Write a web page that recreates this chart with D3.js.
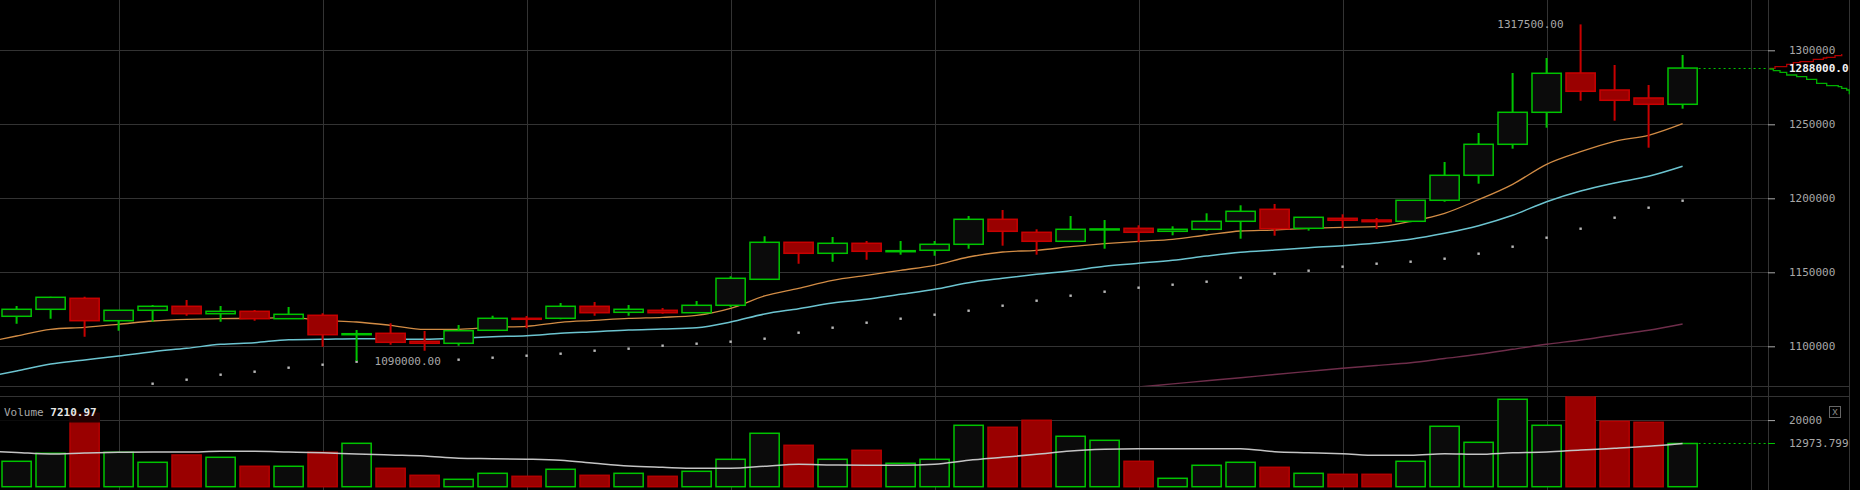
<!DOCTYPE html>
<html>
<head>
<meta charset="utf-8">
<script src="https://cdn.jsdelivr.net/npm/d3@7/dist/d3.min.js"></script>
<style>
  html, body { margin: 0; padding: 0; background: #000; }
  svg { display: block; }
  text { font-family: "DejaVu Sans Mono", "Liberation Mono", monospace; font-size: 11px; }
</style>
</head>
<body>
<div id="chart"></div>
<script>
// ---------------- DATA ----------------
const candleIndex = d3.range(0, 50);
const openP  = [1120270,1125000,1132430,1117300,1124330,1127030,1122030,1123650,1118650,1120950,
                1108200,1108780,1103380,1102030,1110810,1118920,1118920,1127030,1122970,1124330,
                1122700,1127700,1145270,1170270,1162840,1169600,1164190,1164870,1168920,1185810,
                1177030,1170950,1179060,1179730,1177700,1179060,1184460,1192570,1179730,1186490,
                1185340,1184460,1198650,1215540,1236490,1258110,1284670,1273180,1267780,1263520];
const highP  = [1127230,1133500,1133510,1124500,1127900,1131290,1127230,1124530,1126560,1122300,
                1111010,1115540,1110340,1114390,1120680,1120470,1129260,1129930,1127900,1125880,
                1130610,1147300,1174330,1170270,1173850,1171150,1171150,1171150,1188040,1192100,
                1179060,1188040,1185340,1181760,1181080,1189870,1195270,1196150,1187170,1189190,
                1186690,1198650,1224530,1244130,1284670,1294810,1317500,1290070,1276560,1296830];
const lowP   = [1115270,1118650,1106490,1110540,1116620,1120680,1116620,1117300,1118650,1099730,
                1090000,1101080,1097030,1100400,1110500,1112160,1118240,1120680,1120680,1122030,
                1122700,1126350,1145270,1155810,1157160,1158520,1161900,1161220,1165950,1167980,
                1161900,1170950,1165950,1170270,1175000,1178160,1172700,1174730,1178160,1179730,
                1179260,1183780,1197700,1209870,1233520,1247710,1265950,1252440,1234200,1260550];
const closeP = [1125000,1133110,1117300,1124330,1127030,1122030,1123650,1118650,1121620,1107840,
                1108510,1102700,1102030,1110540,1118920,1118650,1127030,1122700,1125000,1122700,
                1127700,1145950,1170270,1162840,1169600,1164190,1164600,1168920,1185810,1177700,
                1170950,1179060,1179300,1177030,1179060,1184460,1191220,1179460,1187170,1185140,
                1184190,1198650,1215540,1236490,1258110,1284470,1272300,1266220,1263520,1288000];
const volume = [7630,10030,22040,10330,7330,9520,8830,6130,6130,10330,
                13030,5530,3420,2220,4020,3120,5230,3420,4020,3120,
                4620,8230,16040,12430,8230,10930,7030,8230,18440,17840,
                19940,15140,13930,7630,2520,6430,7330,5830,4020,3720,
                3720,7630,18140,13330,26250,18440,28500,19640,19340,12973.799];

// moving averages: first value belongs to the candle before the first visible one (index -1)
const maFast = [1102360,1106960,1111490,1112840,1114870,1117090,1118240,1118650,1118920,1119330,1117570,
                1116420,1114190,1111490,1111490,1112840,1113510,1116220,1117570,1118920,1119600,
                1120950,1125680,1133990,1139190,1144600,1147970,1151350,1154730,1160340,1163720,
                1164870,1167300,1169330,1170950,1172300,1175210,1177910,1178590,1179730,1180410,
                1180810,1184460,1189870,1199060,1209460,1222980,1231490,1238520,1242570,1250410];
const maMid  = [1078780,1083380,1088040,1090740,1093450,1096360,1098650,1101350,1102430,1104460,1104730,
                1105140,1104930,1104730,1105410,1106490,1107160,1108780,1109870,1111010,1111690,
                1112570,1116420,1121830,1125410,1129260,1131760,1135140,1138520,1142970,1145950,
                1148650,1151080,1154060,1156080,1158110,1161020,1163520,1165070,1166620,1167970,
                1169800,1172300,1176350,1181490,1188520,1197710,1204940,1210340,1214870,1221630];
// dotted MA (index 0..49), null where not drawn
const maDots = [null,null,null,null,1074730,1077430,1080810,1082840,1085540,1087570,
                1089590,1090070,1090540,1090950,1092300,1093650,1095000,1097030,1098380,1100410,
                1101760,1103110,1105140,1109190,1112570,1115950,1118650,1121350,1124050,1127430,
                1130810,1134190,1136890,1139600,1141620,1143650,1146350,1149060,1151080,1153790,
                1155810,1157160,1159190,1162570,1167300,1173380,1179460,1186890,1193650,1198380];
// slow MA, indices 33..49
const maSlowStart = 33;
const maSlow = [1072500,1074590,1076690,1078780,1080950,1083040,1085130,1087030,1088920,
                1091760,1094590,1097970,1101350,1104260,1107640,1110810,1115070];
// volume MA (index -1..49)
const volMA = [10720,10270,9820,10120,10330,10420,10420,10630,10630,10420,10210,
               9820,9520,9220,8530,8410,8260,7930,7030,6220,5830,
               5530,5530,6130,6730,6520,6430,6430,6730,7930,8830,
               9730,10720,11230,11410,11410,11410,11410,10510,10210,9910,
               9430,9430,9910,9730,10210,10420,11020,11530,12130,12970];

const priceTicks = [1100000, 1150000, 1200000, 1250000, 1300000];
const volumeTicks = [20000];
const lastPrice = 1288000;
const lastVolume = 12973.799;
const hiLabel = "1317500.00", loLabel = "1090000.00";
const volumeLabel = "Volume", volumeValue = "7210.97";

// order-book depth (cumulative size, price)
const askDepth  = [0.19,1.04,2.77,3.75,4.74,6.71,8.19,8.70,9.93,10.92];
const askPrice  = [1287850,1288920,1290540,1291620,1292300,1293920,1294800,1295280,1296350,1297500];
const bidDepth  = [0.19,0.79,1.78,2.77,4.25,5.73,7.21,8.70,10.41,10.92,11.66,12.04];
const bidPrice  = [1287370,1286230,1285150,1283320,1282180,1280420,1277710,1276090,1275410,1274330,1273180,1270280];

// ---------------- LAYOUT ----------------
const W = 1860, H = 490;
const mainBottom = 386.3, volTop = 396.3, volBottom = 486.7;
const plotRight = 1768, axisRight = 1849;

const GREEN = "#00c400", RED_STROKE = "#c80000", RED_FILL = "#9a0000", BODY = "#0b0b0b";
const GRID = "#333333";

const svg = d3.select("#chart").append("svg").attr("width", W).attr("height", H);
svg.append("rect").attr("width", W).attr("height", H).attr("fill", "#000");

const x = d3.scaleLinear().domain([0, 49]).range([16.6, 1682.6]);
const y = d3.scaleLinear().domain([1072973, 1333986]).range([mainBottom, 0]);
const yv = d3.scaleLinear().domain([0, 27147]).range([volBottom, volTop]);
const xd = d3.scaleLinear().domain([0, 12]).range([plotRight, axisRight]);

const crisp = v => Math.round(v) + 0.5;

const defs = svg.append("defs");
defs.append("clipPath").attr("id", "clipMain").append("rect")
  .attr("x", 0).attr("y", 0).attr("width", plotRight).attr("height", mainBottom);
defs.append("clipPath").attr("id", "clipVol").append("rect")
  .attr("x", 0).attr("y", volTop).attr("width", plotRight).attr("height", H - volTop);

// ---------------- GRID ----------------
const grid = svg.append("g");
const vGridIdx = d3.range(3, 52, 6);
grid.selectAll("line.vg").data(vGridIdx).join("line")
  .attr("x1", d => crisp(x(d))).attr("x2", d => crisp(x(d)))
  .attr("y1", 0).attr("y2", H).attr("stroke", GRID);
grid.selectAll("line.hg").data(priceTicks).join("line")
  .attr("x1", 0).attr("x2", plotRight).attr("y1", d => crisp(y(d))).attr("y2", d => crisp(y(d)))
  .attr("stroke", GRID);
grid.selectAll("line.hv").data(volumeTicks).join("line")
  .attr("x1", 0).attr("x2", plotRight).attr("y1", d => crisp(yv(d))).attr("y2", d => crisp(yv(d)))
  .attr("stroke", GRID);
// panel borders
[[0, axisRight, crisp(mainBottom), crisp(mainBottom)], [0, axisRight, crisp(volTop), crisp(volTop)],
 [crisp(plotRight), crisp(plotRight), 0, H], [crisp(axisRight), crisp(axisRight), 0, H]]
 .forEach(l => grid.append("line").attr("x1", l[0]).attr("x2", l[1]).attr("y1", l[2]).attr("y2", l[3]).attr("stroke", GRID));

// ---------------- MAIN PANEL ----------------
const main = svg.append("g").attr("clip-path", "url(#clipMain)");

// slow MA
main.append("path")
  .datum(maSlow.map((v, k) => [maSlowStart + k, v]))
  .attr("fill", "none").attr("stroke", "#6e2d4a").attr("stroke-width", 1.4)
  .attr("d", d3.line().x(d => x(d[0])).y(d => y(d[1])).curve(d3.curveMonotoneX));

// dotted MA
main.selectAll("rect.dot").data(candleIndex.filter(i => maDots[i] != null)).join("rect")
  .attr("x", i => x(i) - 1.2).attr("y", i => y(maDots[i]) - 1.2)
  .attr("width", 2.4).attr("height", 2.4).attr("fill", "#b8b8b8");

// mid MA and fast MA
const maLine = d3.line().x(d => x(d[0])).y(d => y(d[1])).curve(d3.curveMonotoneX);
main.append("path").datum(maMid.map((v, k) => [k - 1, v]))
  .attr("fill", "none").attr("stroke", "#6cc4d0").attr("stroke-width", 1.5).attr("d", maLine);
main.append("path").datum(maFast.map((v, k) => [k - 1, v]))
  .attr("fill", "none").attr("stroke", "#d28c45").attr("stroke-width", 1.3).attr("d", maLine);

// candles
const up = i => closeP[i] >= openP[i];
const cg = main.selectAll("g.c").data(candleIndex).join("g");
cg.append("line")
  .attr("x1", i => x(i)).attr("x2", i => x(i))
  .attr("y1", i => y(highP[i])).attr("y2", i => y(lowP[i]))
  .attr("stroke", i => up(i) ? GREEN : RED_STROKE).attr("stroke-width", 2);
cg.append("rect")
  .attr("x", i => x(i) - 14.6).attr("width", 29.2)
  .attr("y", i => y(Math.max(openP[i], closeP[i])))
  .attr("height", i => Math.max(1, Math.abs(y(openP[i]) - y(closeP[i]))))
  .attr("fill", i => up(i) ? BODY : RED_FILL)
  .attr("stroke", i => up(i) ? GREEN : RED_STROKE).attr("stroke-width", 1.5);

// high / low labels
const iHi = d3.maxIndex(highP), iLo = d3.minIndex(lowP);
svg.append("text").attr("x", x(iHi) - 17).attr("y", y(highP[iHi])).attr("dy", "0.35em")
  .attr("text-anchor", "end").attr("fill", "#a8a8a8").text(hiLabel);
const loText = svg.append("text").attr("x", x(iLo) + 18).attr("y", y(lowP[iLo])).attr("dy", "0.35em")
  .attr("fill", "#a8a8a8").text(loLabel);
const lb = loText.node().getBBox();
svg.insert("rect", () => loText.node())
  .attr("x", lb.x - 1).attr("y", lb.y).attr("width", lb.width + 2).attr("height", lb.height)
  .attr("fill", "#000");

// last price dotted line
svg.append("line").attr("x1", x(49) + 16).attr("x2", plotRight)
  .attr("y1", crisp(y(lastPrice))).attr("y2", crisp(y(lastPrice)))
  .attr("stroke", GREEN).attr("stroke-dasharray", "2,3");

// ---------------- VOLUME PANEL ----------------
const vol = svg.append("g").attr("clip-path", "url(#clipVol)");
vol.selectAll("rect.v").data(candleIndex).join("rect")
  .attr("x", i => x(i) - 14.6).attr("width", 29.2)
  .attr("y", i => yv(volume[i])).attr("height", i => yv(0) - yv(volume[i]))
  .attr("fill", i => up(i) ? BODY : RED_FILL)
  .attr("stroke", i => up(i) ? GREEN : "#b40000").attr("stroke-width", 1.5);
vol.append("path").datum(volMA.map((v, k) => [k - 1, v]))
  .attr("fill", "none").attr("stroke", "#c4c4c4").attr("stroke-width", 1.5)
  .attr("d", d3.line().x(d => x(d[0])).y(d => yv(d[1])).curve(d3.curveMonotoneX));
svg.append("line").attr("x1", x(49) + 16).attr("x2", plotRight)
  .attr("y1", crisp(yv(lastVolume))).attr("y2", crisp(yv(lastVolume)))
  .attr("stroke", GREEN).attr("stroke-dasharray", "2,3");

// volume legend
svg.append("rect").attr("x", 0).attr("y", 403).attr("width", 100).attr("height", 19.5)
  .attr("fill", "rgba(0,0,0,0.78)");
const vt = svg.append("text").attr("x", 4).attr("y", 416);
vt.append("tspan").attr("fill", "#a8a8a8").text(volumeLabel + " ");
vt.append("tspan").attr("fill", "#e6e6e6").attr("font-weight", "bold").text(volumeValue);

// ---------------- AXES ----------------
// depth lines in the axis strip
const depthLine = d3.line().x(d => xd(d[0])).y(d => y(d[1])).curve(d3.curveStepAfter);
svg.append("path").datum(askDepth.map((d, k) => [d, askPrice[k]]))
  .attr("fill", "none").attr("stroke", "#b00000").attr("stroke-width", 1.3).attr("d", depthLine);
svg.append("path").datum(bidDepth.map((d, k) => [d, bidPrice[k]]))
  .attr("fill", "none").attr("stroke", "#00b000").attr("stroke-width", 1.3).attr("d", depthLine);

const yAxis = d3.axisRight(y).tickValues(priceTicks).tickFormat(d3.format("d")).tickSize(7).tickPadding(14);
const ga = svg.append("g").attr("transform", `translate(${plotRight},0)`).call(yAxis);
ga.select(".domain").remove();
ga.selectAll(".tick line").attr("stroke", "#aaa");
ga.selectAll(".tick text").attr("fill", "#a8a8a8").style("font-family", "DejaVu Sans Mono").style("font-size", "11px");

const vAxis = d3.axisRight(yv).tickValues(volumeTicks).tickFormat(d3.format("d")).tickSize(7).tickPadding(14);
const gv = svg.append("g").attr("transform", `translate(${plotRight},0)`).call(vAxis);
gv.select(".domain").remove();
gv.selectAll(".tick line").attr("stroke", "#aaa");
gv.selectAll(".tick text").attr("fill", "#a8a8a8").style("font-family", "DejaVu Sans Mono").style("font-size", "11px");

// last value markers
svg.append("line").attr("x1", plotRight).attr("x2", plotRight + 7)
  .attr("y1", crisp(yv(lastVolume))).attr("y2", crisp(yv(lastVolume))).attr("stroke", GREEN);
svg.append("text").attr("x", plotRight + 21).attr("y", yv(lastVolume)).attr("dy", "0.32em")
  .attr("fill", "#a8a8a8").text(d3.format(".3f")(lastVolume));
svg.append("text").attr("x", plotRight + 21).attr("y", y(lastPrice)).attr("dy", "0.32em")
  .attr("fill", "#f2f2f2").attr("font-weight", "bold").text(d3.format(".1f")(lastPrice));

// close box
svg.append("rect").attr("x", 1829.5).attr("y", 406.5).attr("width", 11).attr("height", 11)
  .attr("fill", "none").attr("stroke", "#666");
svg.append("text").attr("x", 1835).attr("y", 412).attr("dy", "0.32em").attr("text-anchor", "middle")
  .attr("fill", "#888").style("font-size", "10px").text("x");
</script>
</body>
</html>
